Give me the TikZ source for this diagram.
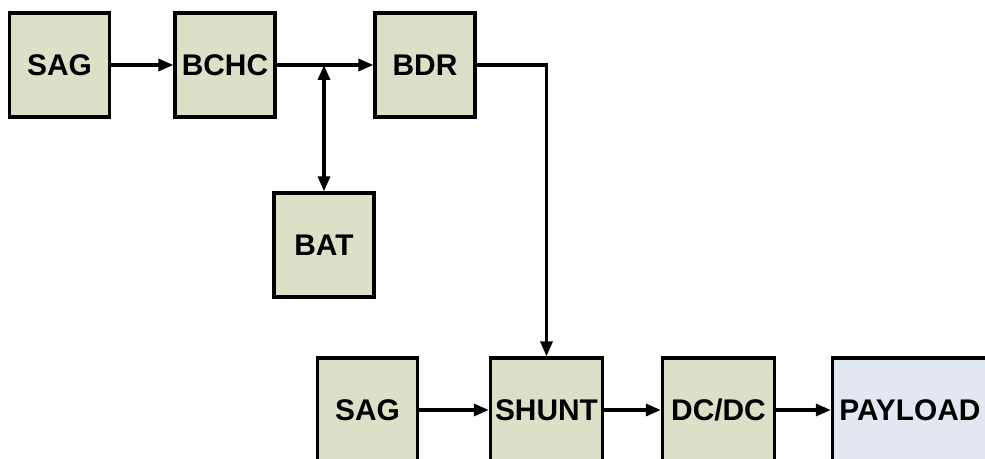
\documentclass[tikz,border=0pt]{standalone}
\usepackage{fontspec}
\setmainfont{Liberation Sans}
\usetikzlibrary{arrows.meta}
\definecolor{boxgreen}{RGB}{221,223,199}
\definecolor{boxblue}{RGB}{227,231,241}
\begin{document}
\begin{tikzpicture}[x=0.03cm,y=-0.03cm,
  blk/.style={draw=black,line width=0.1cm,fill=boxgreen,minimum width=3cm,minimum height=3.12cm,
    inner sep=0pt,font=\bfseries\fontsize{25.5}{25.5}\selectfont},
  wide/.style={blk,minimum width=3.36cm},
  pay/.style={blk,fill=boxblue,minimum width=4.65cm},
  arr/.style={line width=0.1cm,-{Triangle[length=0.45cm,width=0.36cm]}}]
\useasboundingbox (0,0) rectangle (985,459);
\clip (0,0) rectangle (985,459);
% top row
\node[blk] (sag1) at (59.5,65) {SAG};
\node[blk] (bchc) at (225,65) {BCHC};
\node[blk] (bdr) at (425,65) {BDR};
\node[blk] (bat) at (324,245) {BAT};
% bottom row
\node[blk] (sag2) at (367.5,410) {SAG};
\node[wide] (shunt) at (546.5,410) {SHUNT};
\node[wide] (dcdc) at (718.5,410) {DC/DC};
\node[pay] (load) at (910,410) {PAYLOAD};
\coordinate (tap) at (bchc -| bat);
\draw[arr] (sag1) -- (bchc);
\draw[arr] (bchc) -- (bdr);
\draw[arr,{Triangle[length=0.45cm,width=0.36cm]}-{Triangle[length=0.45cm,width=0.36cm]}] (tap) -- (bat);
\draw[arr] (bdr.east) -| (shunt.north);
\draw[arr] (sag2) -- (shunt);
\draw[arr] (shunt) -- (dcdc);
\draw[arr] (dcdc) -- (load);
\end{tikzpicture}
\end{document}
